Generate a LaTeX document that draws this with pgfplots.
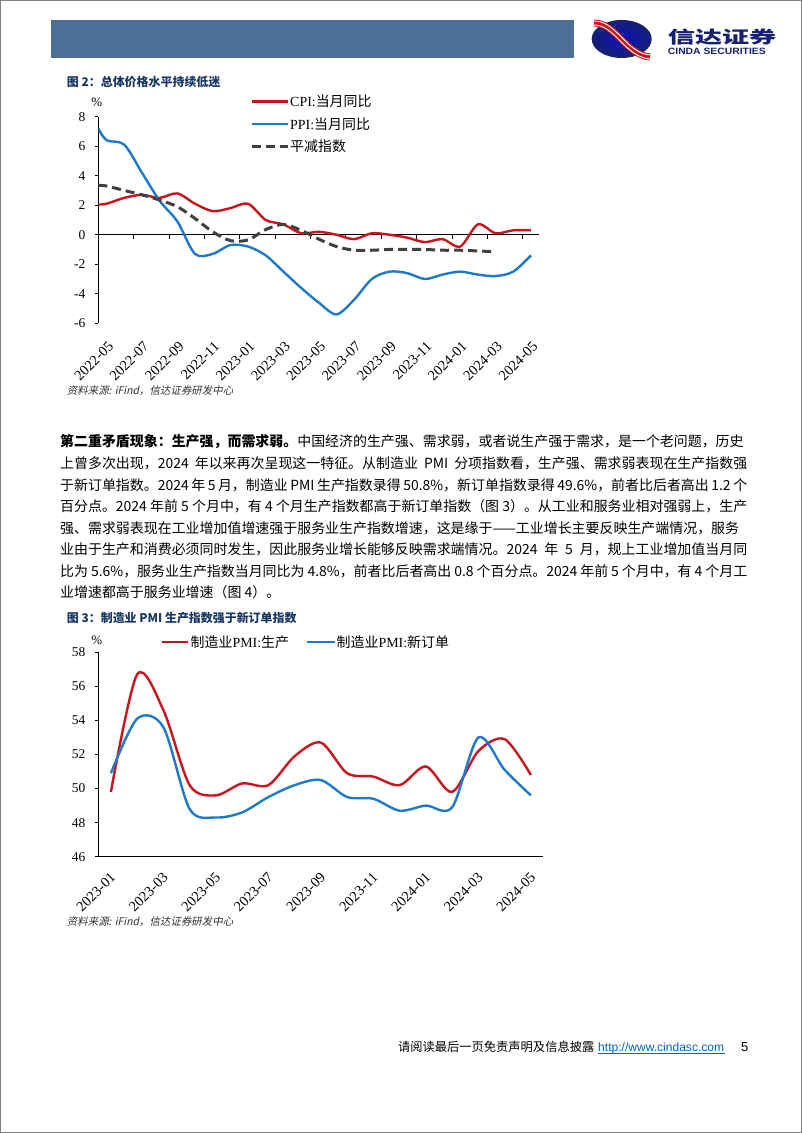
\documentclass[border=0pt]{standalone}
\usepackage{fontspec}
\setmainfont{Liberation Serif}
\newfontfamily\cjk{Noto Sans CJK SC}
\newfontfamily\cjkit[FakeSlant=0.2]{Noto Sans CJK SC}
\newfontfamily\arial{Liberation Sans}
\usepackage{graphicx}
\usepackage{pgfplots}
\pgfplotsset{compat=1.18}
\XeTeXlinebreaklocale "zh"
\XeTeXlinebreakskip=0pt plus 1.5pt

\definecolor{cred}{RGB}{200,20,28}
\definecolor{cblue}{RGB}{30,122,200}
\definecolor{cgray}{RGB}{64,64,64}
\definecolor{titleblue}{RGB}{23,55,100}
\definecolor{barblue}{RGB}{76,111,150}
\definecolor{logonavy}{RGB}{22,32,112}
\definecolor{urlblue}{RGB}{5,99,193}
\newcommand\fs[1]{\fontsize{#1}{#1}\selectfont}

% chart 1: month index, 0 = 2022-05
\pgfplotstableread{
m    cpi   ppi
-0.47 2.05 7.2
0    2.1   6.4
1    2.5   6.1
2    2.7   4.2
3    2.5   2.3
4    2.8   0.9
5    2.1  -1.3
6    1.6  -1.3
7    1.8  -0.7
8    2.1  -0.8
9    1.0  -1.4
10   0.7  -2.5
11   0.1  -3.6
12   0.2  -4.6
13   0.0  -5.4
14  -0.3  -4.4
15   0.1  -3.0
16   0.0  -2.5
17  -0.2  -2.6
18  -0.5  -3.0
19  -0.3  -2.7
20  -0.8  -2.5
21   0.7  -2.7
22   0.1  -2.8
23   0.3  -2.5
24   0.3  -1.4
}\pricedata
\pgfplotstableread{
m    defl
-0.47 3.35
0    3.3
1    3.0
2    2.7
3    2.35
4    1.9
5    1.1
6    0.2
7   -0.4
8   -0.35
9    0.35
10   0.7
11   0.3
12  -0.3
13  -0.8
14  -1.05
15  -1.05
16  -1.0
17  -1.0
18  -1.0
19  -1.05
20  -1.05
21  -1.1
22  -1.15
}\defldata
% chart 2: month index, 0 = 2023-01
\pgfplotstableread{
m   prod  neworder
0   49.8  50.9
1   56.7  54.1
2   54.6  53.6
3   50.2  48.8
4   49.6  48.3
5   50.3  48.6
6   50.2  49.5
7   51.9  50.2
8   52.7  50.5
9   50.9  49.5
10  50.7  49.4
11  50.2  48.7
12  51.3  49.0
13  49.8  48.9
14  52.2  53.0
15  52.9  51.1
16  50.8  49.6
}\pmidata

\pgfplotsset{
  pagechart/.style={
    scale only axis,
    anchor=south west,
    axis x line*=bottom, axis y line*=left,
    axis line style={-, line width=0.8bp},
    x axis line style={draw=none},
    xtick style={draw=none},
    ytick style={black, line width=0.8bp},
    tick align=outside, major tick length=3.5bp,
    tick label style={font=\fontsize{13.5}{14}\selectfont},
    /pgf/number format/assume math mode=true,
    yticklabel style={xshift=-6bp},
    xticklabel style={rotate=45, anchor=north east, inner sep=0pt,
      font=\fontsize{14.5}{14.5}\selectfont, xshift=-9bp},
    every axis plot/.append style={smooth, tension=0.5, line width=2.4bp, no markers},
  }
}

\begin{document}
\begin{tikzpicture}[x=1bp,y=1bp]
\useasboundingbox (0,0) rectangle (802,1133);
\fill[white] (0,0) rectangle (802,1133);

% header
\fill[barblue] (51,1075.3) rectangle (574,1113);
\shade[inner color=blue!55!logonavy, outer color=logonavy] (621.7,1094) ellipse [x radius=30, y radius=19];
\draw[cred, line width=7bp] (594,1110) .. controls (616,1110) and (626,1078) .. (650,1076);
\draw[white, line width=0.9bp] (594,1112) .. controls (617,1112) and (626,1080) .. (650,1078);
\draw[white, line width=0.9bp] (594,1108) .. controls (615,1108) and (625,1076) .. (650,1074);
\node[anchor=west, inner sep=0, text=logonavy] at (667.7,1096)
  {\scalebox{1.6}[1]{\cjk\bfseries\fs{17}信达证券}};
\node[anchor=west, inner sep=0, text=logonavy] at (667.7,1082)
  {\scalebox{1.13}[1]{\arial\bfseries\fs{9.2}CINDA SECURITIES}};

% figure 2 title and legend
\node[anchor=west, inner sep=0, text=titleblue] at (66.7,1051.3)
  {\cjk\bfseries\fs{12}图 2：总体价格水平持续低迷};
\node[inner sep=0] at (96.7,1030.3) {\fs{13}\%};
\draw[cred, line width=2.4bp] (251.7,1031.3) -- (288.3,1031.3);
\node[anchor=west, inner sep=0] at (290,1031.3) {\fs{14}CPI:\cjk 当月同比};
\draw[cblue, line width=2.4bp] (251.7,1009) -- (288.3,1009);
\node[anchor=west, inner sep=0] at (290,1009) {\fs{14}PPI:\cjk 当月同比};
\draw[cgray, line width=3bp, dash pattern=on 9bp off 5bp] (251.7,986.3) -- (288.3,986.3);
\node[anchor=west, inner sep=0] at (290,986.3) {\cjk\fs{14}平减指数};

\begin{axis}[pagechart,
  at={(98.3bp,809.7bp)}, width=440.6bp, height=206.6bp,
  xmin=-0.47, xmax=24.45, ymin=-6, ymax=8,
  ytick={-6,-4,...,8},
  xtick={0,2,...,24},
  xticklabels={2022-05,2022-07,2022-09,2022-11,2023-01,2023-03,2023-05,2023-07,2023-09,2023-11,2024-01,2024-03,2024-05},
  xticklabel style={yshift=-10bp},
]
\draw[line width=0.8bp] (axis cs:-0.47,0) -- (axis cs:24.45,0);
\pgfplotsinvokeforeach{1.53,3.53,5.53,7.53,9.53,11.53,13.53,15.53,17.53,19.53,21.53,23.53}{
  \draw[line width=0.8bp] (axis cs:#1,0) -- ++(0pt,-4pt);
}
\addplot[cred] table[x=m, y=cpi] {\pricedata};
\addplot[cblue] table[x=m, y=ppi] {\pricedata};
\addplot[cgray, line width=3bp, dash pattern=on 9bp off 5bp] table[x=m, y=defl] {\defldata};
\end{axis}

\node[anchor=west, inner sep=0, text=black!80] at (66.7,742)
  {\cjkit\fs{10.5}资料来源: iFind，信达证券研发中心};

% body text
\begin{scope}[every node/.style={anchor=base west, inner sep=0}]
\node at (60,686) {\makebox[687bp][s]{\cjk\fs{14}{\bfseries 第二重矛盾现象：生产强，而需求弱。}中国经济的生产强、需求弱，或者说生产强于需求，是一个老问题，历史}};
\node at (60,664.4) {\makebox[687bp][s]{\cjk\fs{14}上曾多次出现，2024 年以来再次呈现这一特征。从制造业 PMI 分项指数看，生产强、需求弱表现在生产指数强}};
\node at (60,642.9) {\makebox[687bp][s]{\cjk\fs{14}于新订单指数。2024 年 5 月，制造业 PMI 生产指数录得 50.8\%，新订单指数录得 49.6\%，前者比后者高出 1.2 个}};
\node at (60,621.3) {\makebox[687bp][s]{\cjk\fs{14}百分点。2024 年前 5 个月中，有 4 个月生产指数都高于新订单指数（图 3）。从工业和服务业相对强弱上，生产}};
\node at (60,599.7) {\makebox[687bp][s]{\cjk\fs{14}强、需求弱表现在工业增加值增速强于服务业生产指数增速，这是缘于——工业增长主要反映生产端情况，服务}};
\node at (60,578.1) {\makebox[687bp][s]{\cjk\fs{14}业由于生产和消费必须同时发生，因此服务业增长能够反映需求端情况。2024 年 5 月，规上工业增加值当月同}};
\node at (60,556.6) {\makebox[687bp][s]{\cjk\fs{14}比为 5.6\%，服务业生产指数当月同比为 4.8\%，前者比后者高出 0.8 个百分点。2024 年前 5 个月中，有 4 个月工}};
\node at (60,535) {\cjk\fs{14}业增速都高于服务业增速（图 4）。};
\end{scope}

% figure 3
\node[anchor=west, inner sep=0, text=titleblue] at (66.7,515)
  {\cjk\bfseries\fs{12}图 3：制造业 PMI 生产指数强于新订单指数};
\node[inner sep=0] at (96.7,493) {\fs{13}\%};
\draw[cred, line width=2.4bp] (161.7,490.7) -- (188.3,490.7);
\node[anchor=west, inner sep=0] at (190.5,490.7) {\fs{14}{\cjk 制造业}PMI:\cjk 生产};
\draw[cblue, line width=2.4bp] (306.7,490.7) -- (335,490.7);
\node[anchor=west, inner sep=0] at (336.5,490.7) {\fs{14}{\cjk 制造业}PMI:\cjk 新订单};

\begin{axis}[pagechart,
  at={(98.3bp,276.3bp)}, width=444.4bp, height=204.4bp,
  xmin=-0.48, xmax=16.45, ymin=46, ymax=58,
  ytick={46,48,...,58},
  xtick={0,2,...,16},
  xticklabels={2023-01,2023-03,2023-05,2023-07,2023-09,2023-11,2024-01,2024-03,2024-05},
  xticklabel style={yshift=-7bp},
  x axis line style={draw=black},
]
\pgfplotsinvokeforeach{1.5,3.5,5.5,7.5,9.5,11.5,13.5,15.5}{
  \draw[line width=0.8bp] (axis cs:#1,46) -- ++(0pt,-4pt);
}
\addplot[cred] table[x=m, y=prod] {\pmidata};
\addplot[cblue] table[x=m, y=neworder] {\pmidata};
\end{axis}

\node[anchor=west, inner sep=0, text=black!80] at (66.7,211.3)
  {\cjkit\fs{10.5}资料来源: iFind，信达证券研发中心};

% footer
\node[anchor=base west, inner sep=0] at (398,81) {\cjk\fs{12.3}请阅读最后一页免责声明及信息披露};
\node[anchor=base west, inner sep=0, text=urlblue] at (598,81) {\arial\fs{12.1}http://www.cindasc.com};
\draw[urlblue, line width=0.5bp] (598,79.5) -- (725,79.5);
\node[anchor=base west, inner sep=0] at (741,81) {\arial\fs{13}5};

\draw[black!50, line width=1.5bp] (0.75,0.75) rectangle (801.25,1132.25);
\end{tikzpicture}
\end{document}
